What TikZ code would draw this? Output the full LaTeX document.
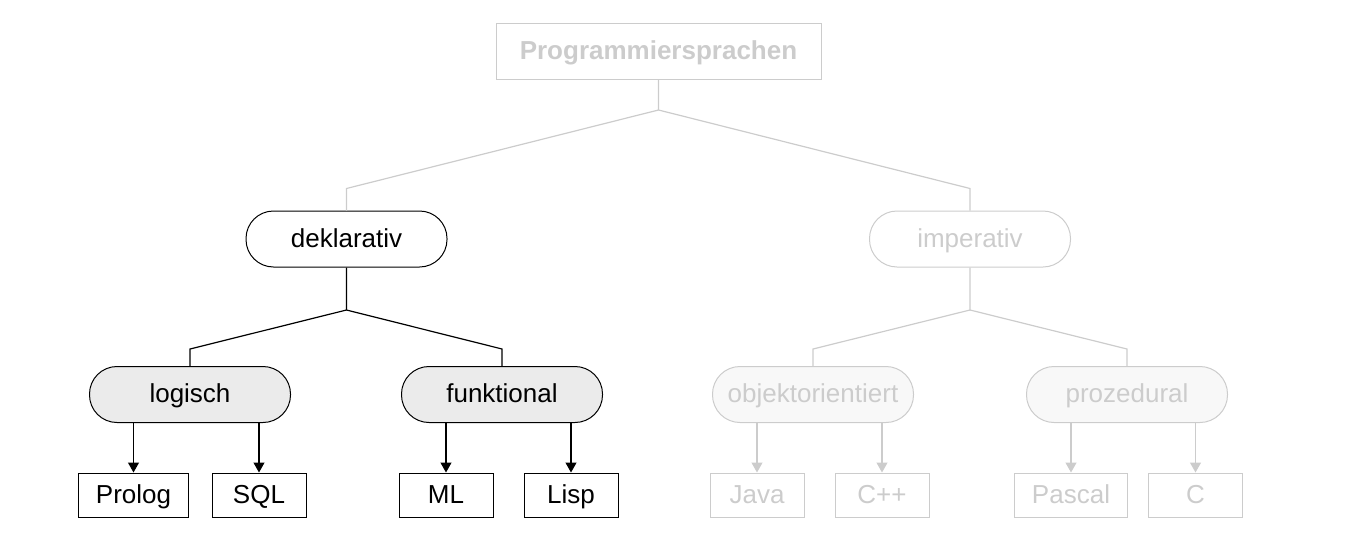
\documentclass[tikz,border=0pt]{standalone}
\usepackage{fontspec}
\setmainfont{Liberation Sans}
\usetikzlibrary{arrows.meta}

\definecolor{lightline}{RGB}{204,204,204}
\definecolor{midfill}{RGB}{235,235,235}
\definecolor{palefill}{RGB}{248,248,248}

\tikzset{
  every node/.style={font=\fontsize{26pt}{30pt}\selectfont, line width=1pt,
    text height=19pt, text depth=2.5pt},
  rootbox/.style={draw=lightline, text=lightline, font=\fontsize{26pt}{30pt}\selectfont\bfseries,
    minimum width=325pt, minimum height=56pt},
  pill/.style={draw, rounded corners=27.5pt, minimum width=201pt, minimum height=56pt},
  leaf/.style={draw, minimum width=94pt, minimum height=44pt, inner xsep=17pt},
  faded/.style={draw=lightline, text=lightline},
  tip/.style={-{Triangle[length=10pt,width=11pt]}},
}

\begin{document}
\begin{tikzpicture}[x=1pt, y=-1pt, line width=1.2pt]
\useasboundingbox (0,0) rectangle (1348,546);

% root
\node [rootbox] (prog) at (658.5,51) {Programmiersprachen};

% first level
\node [pill]        (dekl) at (346.5,239) {deklarativ};
\node [pill,faded]  (imp)  at (970,239)   {imperativ};

% second level
\node [pill,fill=midfill]          (logisch) at (190,394.5)  {logisch};
\node [pill,fill=midfill]          (funk)    at (502,394.5)  {funktional};
\node [pill,faded,fill=palefill]   (objekt)  at (813,394.5)  {objektorientiert};
\node [pill,faded,fill=palefill]   (proz)    at (1127,394.5) {prozedural};

% languages
\node [leaf]       (prolog) at (133.5,495)  {Prolog};
\node [leaf]       (sql)    at (259,495)    {SQL};
\node [leaf]       (ml)     at (446,495)    {ML};
\node [leaf]       (lisp)   at (571,495)    {Lisp};
\node [leaf,faded] (java)   at (757,495)    {Java};
\node [leaf,faded] (cpp)    at (882,495)    {C++};
\node [leaf,faded] (pascal) at (1071,495)   {Pascal};
\node [leaf,faded] (c)      at (1195.5,495) {C};

% branch points
\coordinate (jprog) at (658.5,110);
\coordinate (jdekl) at (346.5,310);
\coordinate (jimp)  at (970,310);

\draw [lightline] (prog.south) -- (jprog) -- ([yshift=22pt]dekl.north) -- (dekl.north);
\draw [lightline] (jprog) -- ([yshift=22pt]imp.north) -- (imp.north);
\draw [black] (dekl.south) -- (jdekl) -- ([yshift=17pt]logisch.north) -- (logisch.north);
\draw [black] (jdekl) -- ([yshift=17pt]funk.north) -- (funk.north);
\draw [lightline] (imp.south) -- (jimp) -- ([yshift=17pt]objekt.north) -- (objekt.north);
\draw [lightline] (jimp) -- ([yshift=17pt]proz.north) -- (proz.north);

% arrows
\draw [tip] (logisch.south -| prolog.north) -- (prolog.north);
\draw [tip] (logisch.south -| sql.north) -- (sql.north);
\draw [tip] (funk.south -| ml.north) -- (ml.north);
\draw [tip] (funk.south -| lisp.north) -- (lisp.north);
\draw [tip,lightline] (objekt.south -| java.north) -- (java.north);
\draw [tip,lightline] (objekt.south -| cpp.north) -- (cpp.north);
\draw [tip,lightline] (proz.south -| pascal.north) -- (pascal.north);
\draw [tip,lightline] (proz.south -| c.north) -- (c.north);
\end{tikzpicture}
\end{document}
